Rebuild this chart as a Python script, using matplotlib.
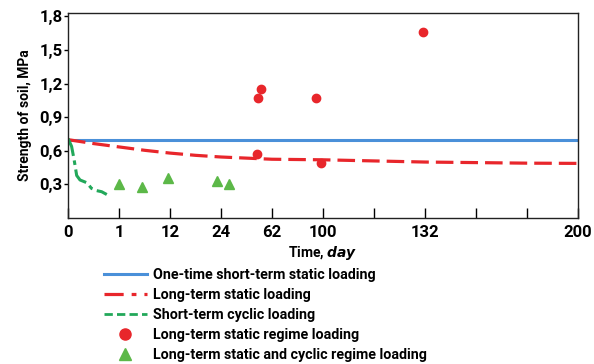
import matplotlib.pyplot as plt
from matplotlib.lines import Line2D

# posiciones del eje x (el eje no es lineal, cada marca es una posicion)
x_ticks = [0, 1, 2, 3, 4, 5, 6, 7, 8, 9, 10]
x_labels = ["0", "1", "12", "24", "62", "100", "", "132", "", "", "200"]
y_ticks = [0.3, 0.6, 0.9, 1.2, 1.5, 1.8]
y_labels = ["0,3", "0,6", "0,9", "1,2", "1,5", "1,8"]

# carga estatica de corta duracion
static_x = [0, 10]
static_y = [0.70, 0.70]

# carga estatica de larga duracion
long_x = [0, 0.5, 1, 1.5, 2, 2.5, 3, 3.5, 4, 5, 6, 7, 8, 9, 10]
long_y = [0.70, 0.665, 0.635, 0.605, 0.58, 0.56, 0.545, 0.535, 0.525, 0.52, 0.51, 0.50, 0.495, 0.49, 0.488]

# carga ciclica de corta duracion
cyc_x = [0, 0.07, 0.12, 0.17, 0.235, 0.37, 0.46, 0.56, 0.66, 0.76]
cyc_y = [0.71, 0.64, 0.52, 0.38, 0.34, 0.315, 0.265, 0.245, 0.235, 0.21]

# regimen estatico (puntos)
reg_x = [3.70, 3.73, 3.78, 4.87, 4.97, 6.97]
reg_y = [0.57, 1.07, 1.15, 1.07, 0.49, 1.66]

# regimen estatico y ciclico (triangulos)
tri_x = [1.0, 1.46, 1.97, 2.93, 3.16]
tri_y = [0.30, 0.28, 0.36, 0.33, 0.30]

plt.rcParams["font.family"] = ["Roboto", "DejaVu Sans"]
plt.rcParams["font.weight"] = "bold"

fig = plt.figure(figsize=(5.94, 3.64), dpi=100)
ax = fig.add_axes([0.1145, 0.401, 0.8585, 0.563])

azul = "#4a90d9"
rojo = "#e8262b"
verde = "#22a85a"
verde_tri = "#5cb848"

ax.plot(static_x, static_y, color=azul, lw=2.2)
ax.plot(long_x, long_y, color=rojo, lw=2.3, dashes=(5.5, 2.2))
ax.plot(cyc_x, cyc_y, color=verde, lw=2.2, dashes=(6, 1.5, 1.5, 1.5))
ax.plot(reg_x, reg_y, "o", color=rojo, ms=6, zorder=5)
ax.plot(tri_x, tri_y, "^", color=verde_tri, ms=7, zorder=5)

ax.set_xlim(0, 10)
ax.set_ylim(0, 1.83)
ax.set_xticks(x_ticks)
ax.set_xticklabels(x_labels, fontsize=12, fontweight="bold")
ax.set_yticks(y_ticks)
ax.set_yticklabels(y_labels, fontsize=12, fontweight="bold")
ax.tick_params(axis="x", direction="in", length=7, width=1, pad=5)
ax.tick_params(axis="y", direction="out", length=3, width=1, pad=1)
for s in ax.spines.values():
    s.set_linewidth(1)
    s.set_color("#222222")

ax.set_ylabel("Strength of soil, MPa", fontsize=10, fontweight="bold", labelpad=5)
ax.set_xlabel("Time, $\\it{day}$", fontsize=10, fontweight="bold", labelpad=3)

handles = [
    Line2D([], [], color=azul, lw=2.2),
    Line2D([], [], color=rojo, lw=2.3, dashes=(6, 2.5, 1.5, 2.5)),
    Line2D([], [], color=verde, lw=2.0, dashes=(3, 1.5)),
    Line2D([], [], color=rojo, marker="o", ls="", ms=8),
    Line2D([], [], color=verde_tri, marker="^", ls="", ms=8),
]
nombres = [
    "One-time short-term static loading",
    "Long-term static loading",
    "Short-term cyclic loading",
    "Long-term static regime loading",
    "Long-term static and cyclic regime loading",
]
fig.legend(handles, nombres, loc="upper left", bbox_to_anchor=(0.175, 0.263),
           frameon=False, fontsize=10.3, handlelength=3.0, handletextpad=0.4,
           labelspacing=0.42, borderpad=0, borderaxespad=0)

plt.savefig("out.png", dpi=100)
